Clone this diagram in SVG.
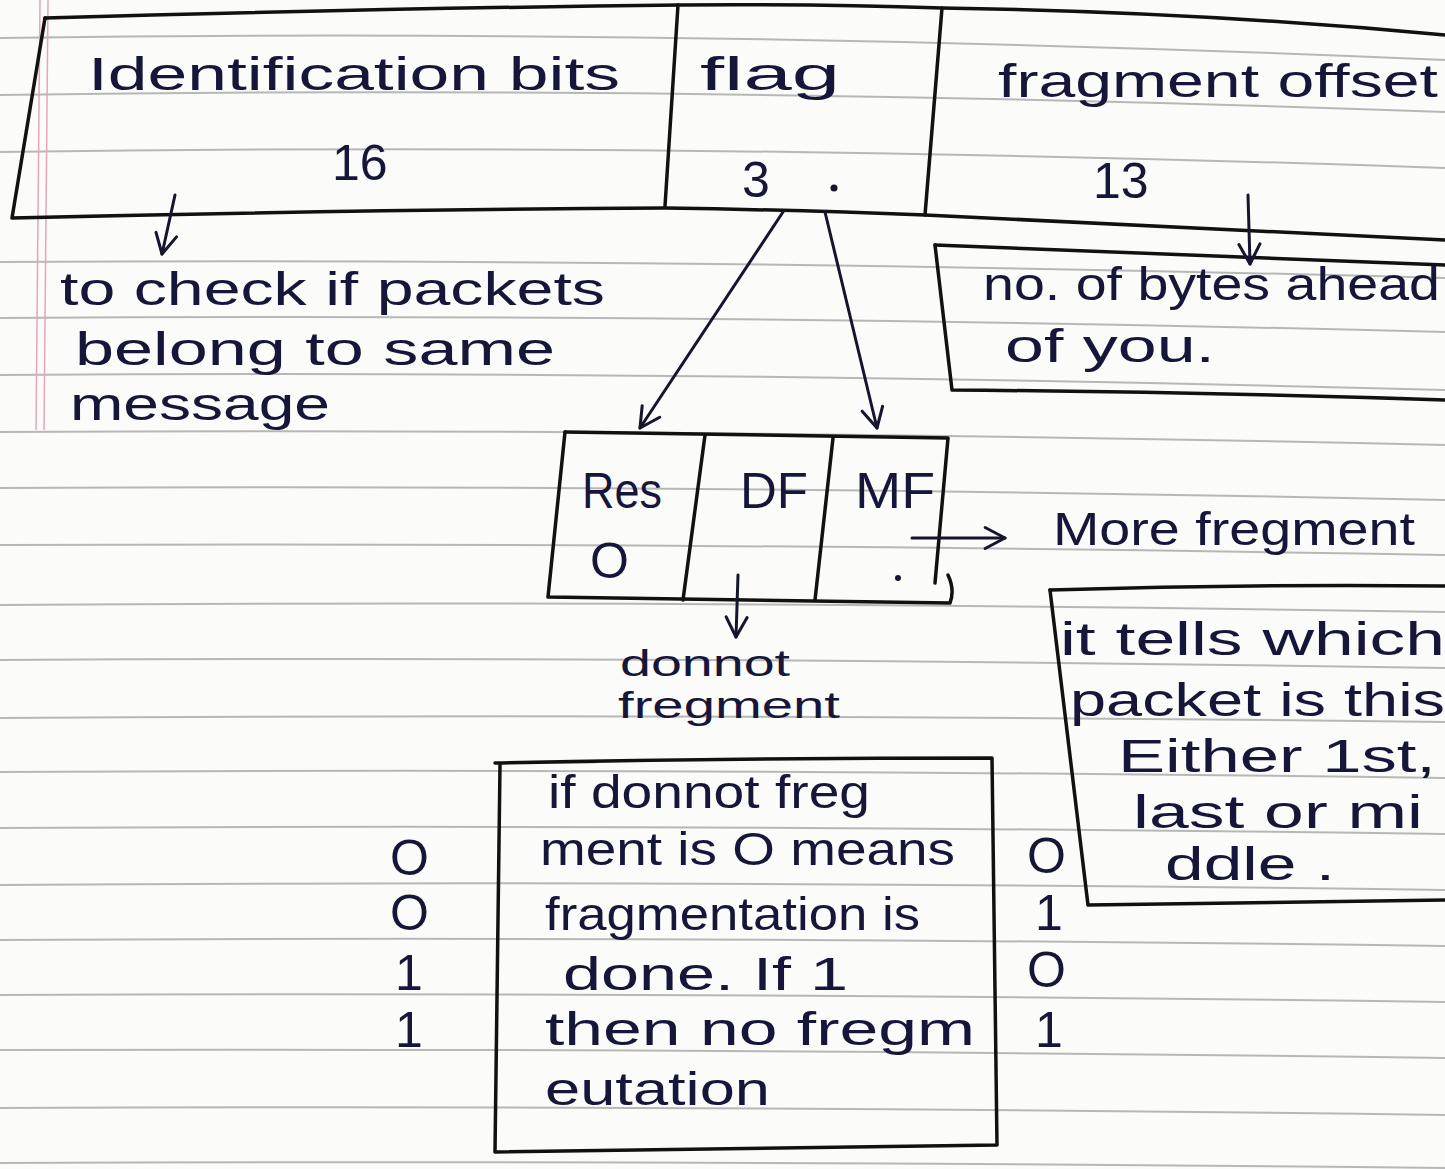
<svg xmlns="http://www.w3.org/2000/svg" width="1445" height="1169" viewBox="0 0 1445 1169">
<defs>
<style>
.paper{fill:#fbfbf9}
.rule{fill:none;stroke:#8a8a8a;stroke-width:2;opacity:0.6}
.margin{stroke:#e8a6b4;stroke-width:1.5;fill:none}
.box{fill:none;stroke:#111;stroke-width:3.5;stroke-linejoin:round;stroke-linecap:round}
.ink{fill:none;stroke:#15152e;stroke-width:3;stroke-linecap:round;stroke-linejoin:round}
.t{font-family:"Liberation Sans","DejaVu Sans",sans-serif;fill:#16163a;font-size:46px}
.s{font-family:"Liberation Sans","DejaVu Sans",sans-serif;fill:#16163a;font-size:36px}
.n{font-family:"Liberation Sans","DejaVu Sans",sans-serif;fill:#16163a;font-size:50px}
</style>
<marker id="ah" viewBox="0 0 24 24" refX="20" refY="12" markerWidth="28" markerHeight="28" markerUnits="userSpaceOnUse" orient="auto">
<path d="M3,3 L20,12 L3,21" fill="none" stroke="#15152e" stroke-width="2.6" stroke-linecap="round" stroke-linejoin="round"/>
</marker>
</defs>
<rect class="paper" x="0" y="0" width="1445" height="1169"/>
<g id="paper-rules">
<path class="rule" d="M0,38 Q700,28 1445,60"/>
<path class="rule" d="M0,95 Q700,85 1445,112"/>
<path class="rule" d="M0,152 Q700,142 1445,168"/>
<path class="rule" d="M0,262 Q700,258 1445,278"/>
<path class="rule" d="M0,318 Q700,313 1445,332"/>
<path class="rule" d="M0,375 Q700,370 1445,390"/>
<path class="rule" d="M0,432 Q700,428 1445,445"/>
<path class="rule" d="M0,488 Q700,484 1445,500"/>
<path class="rule" d="M0,545 Q700,542 1445,555"/>
<path class="rule" d="M0,605 Q700,600 1445,612"/>
<path class="rule" d="M0,660 Q700,656 1445,668"/>
<path class="rule" d="M0,718 Q700,713 1445,722"/>
<path class="rule" d="M0,772 Q700,768 1445,778"/>
<path class="rule" d="M0,828 Q700,824 1445,834"/>
<path class="rule" d="M0,885 Q700,880 1445,890"/>
<path class="rule" d="M0,940 Q700,936 1445,946"/>
<path class="rule" d="M0,995 Q700,992 1445,1002"/>
<path class="rule" d="M0,1050 Q700,1048 1445,1058"/>
<path class="rule" d="M0,1108 Q700,1105 1445,1115"/>
<path class="rule" d="M0,1163 Q700,1160 1445,1168"/>
<path class="margin" d="M40,0 L36,430"/>
<path class="margin" d="M48,0 L44,430"/>
</g>
<g id="header-box">
<path class="box" d="M45,18 Q400,8 680,5 Q820,4 942,8 Q1200,12 1445,35"/>
<path class="box" d="M45,18 L12,218 Q350,210 665,208 Q800,210 925,215 Q1200,228 1445,240"/>
<path class="box" d="M678,5 L665,206"/>
<path class="box" d="M942,8 L925,215"/>
<text class="t" x="88" y="90" textLength="532" lengthAdjust="spacingAndGlyphs">Identification bits</text>
<text class="t" x="700" y="90" textLength="140" lengthAdjust="spacingAndGlyphs">flag</text>
<text class="t" x="998" y="97" textLength="440" lengthAdjust="spacingAndGlyphs">fragment offset</text>
<text class="n" x="332" y="180">16</text>
<text class="n" x="742" y="197">3</text>
<circle cx="834" cy="188" r="3.5" fill="#15152e"/>
<text class="n" x="1093" y="198">13</text>
</g>
<g id="id-note">
<text class="t" x="60" y="305" textLength="545" lengthAdjust="spacingAndGlyphs">to check if packets</text>
<text class="t" x="75" y="365" textLength="480" lengthAdjust="spacingAndGlyphs">belong to same</text>
<text class="t" x="70" y="420" textLength="260" lengthAdjust="spacingAndGlyphs">message</text>
</g>
<g id="offset-note">
<path class="box" d="M935,245 Q1200,255 1445,265"/>
<path class="box" d="M935,245 L952,390 Q1200,392 1445,400"/>
<text class="t" x="983" y="300" textLength="457" lengthAdjust="spacingAndGlyphs">no. of bytes ahead</text>
<text class="t" x="1005" y="362" textLength="210" lengthAdjust="spacingAndGlyphs">of you.</text>
</g>
<g id="flag-box">
<path class="box" d="M565,432 L948,438 L935,583"/>
<path class="box" d="M565,432 L548,597 L950,603 Q955,590 948,575"/>
<path class="box" d="M705,435 L683,600"/>
<path class="box" d="M833,438 L815,600"/>
<text class="n" x="582" y="508" textLength="80" lengthAdjust="spacingAndGlyphs">Res</text>
<text class="n" x="590" y="578">O</text>
<text class="n" x="740" y="508" textLength="68" lengthAdjust="spacingAndGlyphs">DF</text>
<text class="n" x="855" y="508" textLength="80" lengthAdjust="spacingAndGlyphs">MF</text>
<circle cx="898" cy="578" r="3" fill="#15152e"/>
</g>
<g id="mf-label">
<text class="t" x="1053" y="545" textLength="362" lengthAdjust="spacingAndGlyphs">More fregment</text>
</g>
<g id="mf-note">
<path class="box" d="M1050,590 Q1250,584 1445,586"/>
<path class="box" d="M1050,590 L1088,905 Q1260,902 1445,900"/>
<text class="t" x="1060" y="655" textLength="385" lengthAdjust="spacingAndGlyphs">it tells which</text>
<text class="t" x="1070" y="716" textLength="375" lengthAdjust="spacingAndGlyphs">packet is this</text>
<text class="t" x="1118" y="772" textLength="318" lengthAdjust="spacingAndGlyphs">Either 1st,</text>
<text class="t" x="1133" y="828" textLength="290" lengthAdjust="spacingAndGlyphs">last or mi</text>
<text class="t" x="1165" y="880" textLength="170" lengthAdjust="spacingAndGlyphs">ddle .</text>
</g>
<g id="df-label">
<text class="s" x="620" y="676" textLength="170" lengthAdjust="spacingAndGlyphs">donnot</text>
<text class="s" x="618" y="718" textLength="222" lengthAdjust="spacingAndGlyphs">fregment</text>
</g>
<g id="df-note">
<path class="box" d="M495,763 Q750,758 992,758 L997,1145 Q750,1148 495,1152 L500,765"/>
<text class="t" x="548" y="808" textLength="322" lengthAdjust="spacingAndGlyphs">if donnot freg</text>
<text class="t" x="540" y="865" textLength="415" lengthAdjust="spacingAndGlyphs">ment is O means</text>
<text class="t" x="545" y="930" textLength="375" lengthAdjust="spacingAndGlyphs">fragmentation is</text>
<text class="t" x="563" y="990" textLength="285" lengthAdjust="spacingAndGlyphs">done. If 1</text>
<text class="t" x="545" y="1045" textLength="430" lengthAdjust="spacingAndGlyphs">then no fregm</text>
<text class="t" x="545" y="1105" textLength="225" lengthAdjust="spacingAndGlyphs">eutation</text>
</g>
<g id="df-values">
<text class="n" x="390" y="875">O</text>
<text class="n" x="390" y="930">O</text>
<text class="n" x="395" y="990">1</text>
<text class="n" x="395" y="1047">1</text>
</g>
<g id="mf-values">
<text class="n" x="1027" y="873">O</text>
<text class="n" x="1035" y="930">1</text>
<text class="n" x="1027" y="987">O</text>
<text class="n" x="1035" y="1047">1</text>
</g>
<g id="connectors">
<path class="ink" d="M175,195 L162,254" marker-end="url(#ah)"/>
<path class="ink" d="M783,212 L640,428" marker-end="url(#ah)"/>
<path class="ink" d="M825,212 L877,428" marker-end="url(#ah)"/>
<path class="ink" d="M1248,195 L1250,264" marker-end="url(#ah)"/>
<path class="ink" d="M912,538 L1005,538" marker-end="url(#ah)"/>
<path class="ink" d="M738,575 L736,637" marker-end="url(#ah)"/>
</g>
</svg>
